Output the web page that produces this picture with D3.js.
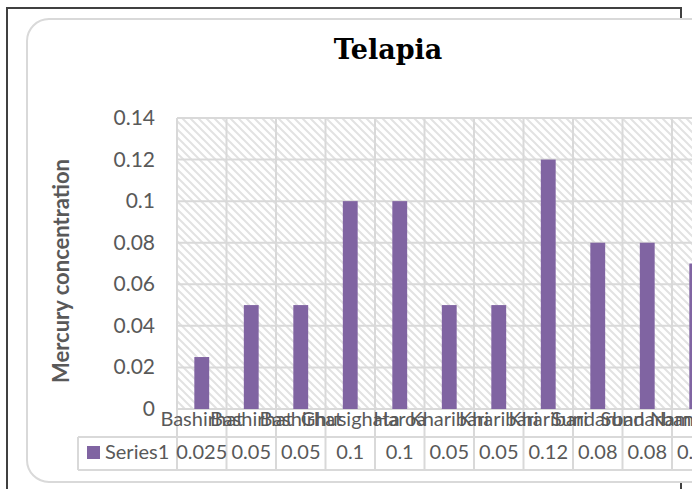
<!DOCTYPE html>
<html>
<head>
<meta charset="utf-8">
<script src="https://cdn.jsdelivr.net/npm/d3@7"></script>
<style>
  html, body { margin: 0; padding: 0; background: #fff; overflow: hidden; }
  svg { display: block; }
</style>
</head>
<body>
<svg id="chart" width="692" height="489"></svg>
<script>
// Mercury concentration in Telapia by sampling site
const categories = ["Bashirhat", "Bashirhat", "Bashirhat", "Ghusighata", "Haroa",
                    "Kharibari", "Kharibari", "Kharibari", "Sundarban", "Sundarban", "Namkhana"];
const seriesName = "Series1";
const values = [0.025, 0.05, 0.05, 0.1, 0.1, 0.05, 0.05, 0.12, 0.08, 0.08, 0.07];
const tickValues = [0, 0.02, 0.04, 0.06, 0.08, 0.1, 0.12, 0.14];
const tickLabels = ["0", "0.02", "0.04", "0.06", "0.08", "0.1", "0.12", "0.14"];
const valueLabels = ["0.025", "0.05", "0.05", "0.1", "0.1", "0.05", "0.05", "0.12", "0.08", "0.08", "0.07"];

const svg = d3.select("#chart");
const gridColor = "#d9d9d9";
const textColor = "#595959";
const barColor = "#8064a2";
const labelFont = "Lato, 'Open Sans', sans-serif";

// Plot geometry
const plotLeft = 177, plotTop = 118, plotBottom = 409;
const colStep = 49.5;
const labelRowBottom = 437, valueRowBottom = 470, legendLeft = 78;
const plotRight = plotLeft + colStep * categories.length;

const x = d3.scaleBand()
  .domain(d3.range(categories.length))
  .range([plotLeft, plotRight])
  .padding(0);
const y = d3.scaleLinear().domain([0, 0.14]).range([plotBottom, plotTop]);
const barW = x.bandwidth() * 0.3;

// Hatch fill for the plot area
const defs = svg.append("defs");
const pat = defs.append("pattern")
  .attr("id", "hatch").attr("patternUnits", "userSpaceOnUse")
  .attr("width", 8).attr("height", 8);
pat.append("path")
  .attr("d", "M0,0 L8,8 M-2,6 L2,10 M6,-2 L10,2")
  .attr("stroke", "#e2e2e2").attr("stroke-width", 2).attr("fill", "none");

// Outer page frame
svg.append("rect")
  .attr("x", 7).attr("y", 8).attr("width", 674).attr("height", 500)
  .attr("fill", "#fff").attr("stroke", "#404040").attr("stroke-width", 2);

// Chart area box
svg.append("rect")
  .attr("x", 27).attr("y", 19).attr("width", 720).attr("height", 463)
  .attr("rx", 22).attr("ry", 22)
  .attr("fill", "#fff").attr("stroke", gridColor).attr("stroke-width", 2);

// Title
svg.append("text")
  .attr("x", 388).attr("y", 59)
  .attr("text-anchor", "middle")
  .attr("font-family", "'DejaVu Serif', serif")
  .attr("font-weight", "bold").attr("font-size", 27)
  .attr("fill", "#000")
  .text("Telapia");

// Plot background
svg.append("rect")
  .attr("x", plotLeft).attr("y", plotTop)
  .attr("width", plotRight - plotLeft).attr("height", plotBottom - plotTop)
  .attr("fill", "url(#hatch)");

// Horizontal gridlines
svg.append("g").selectAll("line").data(tickValues).join("line")
  .attr("x1", plotLeft).attr("x2", plotRight)
  .attr("y1", d => y(d)).attr("y2", d => y(d))
  .attr("stroke", gridColor).attr("stroke-width", 2);

// Vertical category gridlines, extending through the data table
const edges = d3.range(categories.length + 1).map(i => plotLeft + i * colStep);
svg.append("g").selectAll("line").data(edges).join("line")
  .attr("x1", d => d).attr("x2", d => d)
  .attr("y1", plotTop).attr("y2", valueRowBottom)
  .attr("stroke", gridColor).attr("stroke-width", 2);

// Table horizontal rules
svg.append("line")
  .attr("x1", legendLeft).attr("x2", plotRight)
  .attr("y1", labelRowBottom).attr("y2", labelRowBottom)
  .attr("stroke", gridColor).attr("stroke-width", 2);
svg.append("line")
  .attr("x1", legendLeft).attr("x2", plotRight)
  .attr("y1", valueRowBottom).attr("y2", valueRowBottom)
  .attr("stroke", gridColor).attr("stroke-width", 2);
svg.append("line")
  .attr("x1", legendLeft).attr("x2", legendLeft)
  .attr("y1", labelRowBottom).attr("y2", valueRowBottom)
  .attr("stroke", gridColor).attr("stroke-width", 2);

// Bars
svg.append("g").selectAll("rect").data(values).join("rect")
  .attr("x", (d, i) => x(i) + x.bandwidth() / 2 - barW / 2)
  .attr("y", d => y(d))
  .attr("width", barW)
  .attr("height", d => y(0) - y(d))
  .attr("fill", barColor);

// Y axis tick labels
svg.append("g").selectAll("text").data(tickValues).join("text")
  .attr("x", 155).attr("y", d => y(d) + 7)
  .attr("text-anchor", "end")
  .attr("font-family", labelFont).attr("font-size", 21)
  .attr("fill", textColor)
  .text((d, i) => tickLabels[i]);

// Y axis title
svg.append("text")
  .attr("transform", "translate(69,271) rotate(-90)")
  .attr("text-anchor", "middle")
  .attr("font-family", labelFont).attr("font-weight", "bold").attr("font-size", 22)
  .attr("fill", textColor)
  .text("Mercury concentration");

// Category labels row
svg.append("g").selectAll("text").data(categories).join("text")
  .attr("x", (d, i) => x(i) + x.bandwidth() / 2)
  .attr("y", 426)
  .attr("text-anchor", "middle")
  .attr("font-family", labelFont).attr("font-size", 20)
  .attr("fill", textColor)
  .text(d => d);

// Values row
svg.append("g").selectAll("text").data(valueLabels).join("text")
  .attr("x", (d, i) => x(i) + x.bandwidth() / 2)
  .attr("y", 459)
  .attr("text-anchor", "middle")
  .attr("font-family", labelFont).attr("font-size", 20)
  .attr("fill", textColor)
  .text(d => d);

// Legend key in the table
svg.append("rect")
  .attr("x", 87).attr("y", 446).attr("width", 13).attr("height", 13)
  .attr("fill", barColor);
svg.append("text")
  .attr("x", 105).attr("y", 459)
  .attr("font-family", labelFont).attr("font-size", 20)
  .attr("fill", textColor)
  .text(seriesName);
</script>
</body>
</html>
